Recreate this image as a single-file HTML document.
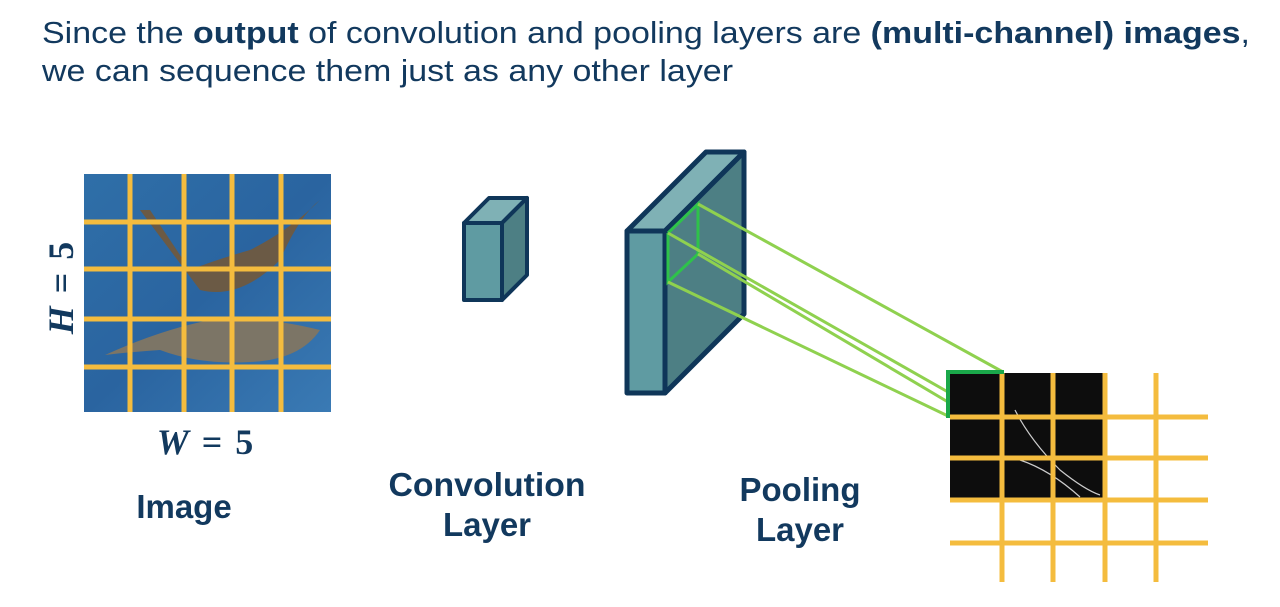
<!DOCTYPE html>
<html><head><meta charset="utf-8"><style>
html,body{margin:0;padding:0;background:#fff;width:1280px;height:607px;overflow:hidden}
</style></head><body>
<svg width="1280" height="607" viewBox="0 0 1280 607" xmlns="http://www.w3.org/2000/svg">
<defs>
<linearGradient id="water" x1="0" y1="0" x2="1" y2="1">
<stop offset="0" stop-color="#2f6fa8"/><stop offset="0.5" stop-color="#2a64a0"/><stop offset="1" stop-color="#3a7ab4"/>
</linearGradient>
</defs>
<g font-family="Liberation Sans, Arial, sans-serif" fill="#12395e">
<text x="42" y="43" font-size="31" textLength="1208" lengthAdjust="spacingAndGlyphs">Since the <tspan font-weight="bold">output</tspan> of convolution and pooling layers are <tspan font-weight="bold">(multi-channel) images</tspan>,</text>
<text x="42" y="81" font-size="31" textLength="691" lengthAdjust="spacingAndGlyphs">we can sequence them just as any other layer</text>
<g font-weight="bold" font-size="33" text-anchor="middle">
<text x="184" y="518">Image</text>
<text x="487" y="496" textLength="197" lengthAdjust="spacingAndGlyphs">Convolution</text>
<text x="487" y="536">Layer</text>
<text x="800" y="501">Pooling</text>
<text x="800" y="541">Layer</text>
</g>
</g>
<!-- image -->
<rect x="84" y="174" width="247" height="238" fill="url(#water)"/>
<path d="M140 210 Q170 250 200 290 Q240 300 280 260 Q300 215 320 200 Q290 230 250 250 Q215 260 190 270 Q170 240 150 210 Z" fill="#6b5a45"/>
<path d="M105 355 Q160 330 210 320 Q260 315 320 330 Q300 360 250 362 Q200 365 160 350 Q130 352 105 355 Z" fill="#7c7566"/>
<g stroke="#f4bc3e" stroke-width="5">
<line x1="130" y1="174" x2="130" y2="412"/><line x1="184" y1="174" x2="184" y2="412"/>
<line x1="232" y1="174" x2="232" y2="412"/><line x1="281" y1="174" x2="281" y2="412"/>
<line x1="84" y1="222" x2="331" y2="222"/><line x1="84" y1="269" x2="331" y2="269"/>
<line x1="84" y1="319" x2="331" y2="319"/><line x1="84" y1="367" x2="331" y2="367"/>
</g>
<text x="0" y="0" transform="translate(73,288) rotate(-90)" text-anchor="middle" font-family="Liberation Serif, serif" font-weight="bold" font-size="36" fill="#12395e"><tspan font-style="italic">H</tspan> <tspan dx="4">=</tspan> <tspan dx="4">5</tspan></text>
<text x="205" y="454" text-anchor="middle" font-family="Liberation Serif, serif" font-weight="bold" font-size="36" fill="#12395e"><tspan font-style="italic">W</tspan> <tspan dx="4">=</tspan> <tspan dx="4">5</tspan></text>
<!-- small cube -->
<g stroke="#0f3659" stroke-width="4" stroke-linejoin="round">
<polygon points="464,223 489,198 527,198 502,223" fill="#7fb1b5"/>
<polygon points="502,223 527,198 527,275 502,300" fill="#4d7f84"/>
<rect x="464" y="223" width="38" height="77" fill="#5f9ba2"/>
</g>
<!-- slab -->
<g stroke="#0f3659" stroke-width="5" stroke-linejoin="round">
<polygon points="627,231 706,152 744,152 665,231" fill="#7fb1b5"/>
<polygon points="665,231 744,152 744,314 665,393" fill="#4d7f84"/>
<rect x="627" y="231" width="38" height="162" fill="#5f9ba2"/>
</g>
<g stroke="#2ec24a" stroke-width="3" fill="none">
<polyline points="668,233 698,204 698,254 668,282 668,233"/>
</g>
<!-- pooled grid -->
<rect x="950" y="373" width="154" height="126" fill="#0d0d0d"/>
<path d="M1015 410 Q1030 440 1060 470 Q1085 490 1100 495 M1020 460 Q1050 470 1080 497" stroke="#ccc" stroke-width="1.2" fill="none"/>
<g stroke="#f4bc3e" stroke-width="5">
<line x1="1002" y1="373" x2="1002" y2="582"/><line x1="1053" y1="373" x2="1053" y2="582"/>
<line x1="1105" y1="373" x2="1105" y2="582"/><line x1="1156" y1="373" x2="1156" y2="582"/>
<line x1="950" y1="417" x2="1208" y2="417"/><line x1="950" y1="458" x2="1208" y2="458"/>
<line x1="950" y1="500" x2="1208" y2="500"/><line x1="950" y1="543" x2="1208" y2="543"/>
</g>
<g stroke="#8fd14f" stroke-width="3">
<line x1="698" y1="204" x2="1003" y2="372"/>
<line x1="668" y1="233" x2="948" y2="392"/>
<line x1="698" y1="254" x2="948" y2="402"/>
<line x1="668" y1="282" x2="948" y2="416"/>
</g>
<path d="M948 418 L948 372 L1004 372" stroke="#1aa84a" stroke-width="4" fill="none"/>
</svg>
</body></html>
